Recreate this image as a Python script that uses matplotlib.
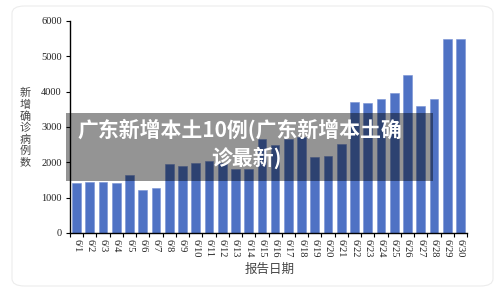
import matplotlib
matplotlib.use("Agg")
import matplotlib.pyplot as plt
from matplotlib.patches import FancyBboxPatch, Rectangle

dates = ["6/%d" % d for d in range(1, 31)]
cases = [1410, 1430, 1440, 1420, 1650, 1230, 1270, 1940, 1910, 1990,
         2030, 1990, 1810, 1800, 2660, 2490, 2650, 2730, 2150, 2170,
         2510, 3700, 3670, 3800, 3970, 4470, 3600, 3800, 5500, 5500]
yticks = [0, 1000, 2000, 3000, 4000, 5000, 6000]
ylabel_chars = list("新增确诊病例数")
xlabel = "报告日期"
title1 = "广东新增本土10例(广东新增本土确"
title2 = "诊最新)"

W, H = 500, 296
fig = plt.figure(figsize=(W / 100, H / 100), dpi=100)
fig.patch.set_facecolor("white")

# card outline
card = FancyBboxPatch((12 / W, 1 - 286 / H), 481 / W, 280 / H,
                      boxstyle="round,pad=0,rounding_size=0.025",
                      transform=fig.transFigure, facecolor="none",
                      edgecolor="#ececec", lw=0.8, zorder=-10)
fig.patches.append(card)

ax = fig.add_axes([70 / W, 1 - 233 / H, 397 / W, 212 / H])
ax.set_facecolor("none")
x = list(range(len(dates)))
ax.bar(x, cases, width=0.66, color="#4f72c4", edgecolor="#7891d4", lw=0.4, zorder=2)

ax.set_xlim(-0.5, len(dates) - 0.5)
ax.set_ylim(0, 6000)
ax.set_yticks(yticks)
ax.set_yticklabels([str(v) for v in yticks], family="Liberation Serif", fontsize=7.5, color="#222222")
ax.set_xticks(x)
ax.set_xticklabels(dates, rotation=-90, family="Liberation Serif", fontsize=7.5, color="#222222")
ax.set_xticks([i + 0.5 for i in range(-1, len(dates))], minor=True)
ax.tick_params(axis="x", which="major", length=0, pad=4)
ax.tick_params(axis="x", which="minor", length=3, width=0.8, direction="out")
ax.tick_params(axis="y", length=3, width=0.8, direction="out", pad=3)
for s in ["top", "right"]:
    ax.spines[s].set_visible(False)
for s in ["left", "bottom"]:
    ax.spines[s].set_linewidth(1.0)

# y label, one character per line
for i, ch in enumerate(ylabel_chars):
    fig.text(25 / W, 1 - (93 + i * 11.6) / H, ch, ha="center", va="center",
             fontsize=8, color="#444444", family="Noto Sans CJK SC")
fig.text(270 / W, 1 - 269 / H, xlabel, ha="center", va="center",
         fontsize=9, color="#444444", family="Noto Sans CJK SC")

# translucent title banner
fig.patches.append(Rectangle((66 / W, 1 - 181 / H), 367 / W, 68 / H,
                             transform=fig.transFigure, facecolor="black",
                             alpha=0.42, lw=0, zorder=5))
fig.text(239.5 / W, 1 - 130 / H, title1, ha="center", va="center", fontsize=15,
         fontweight="black", color="white", family=["Noto Sans CJK SC", "DejaVu Sans"], zorder=6)
fig.text(246 / W, 1 - 158 / H, title2, ha="center", va="center", fontsize=15,
         fontweight="black", color="white", family=["Noto Sans CJK SC", "DejaVu Sans"], zorder=6)

fig.savefig("out.png", dpi=100)
